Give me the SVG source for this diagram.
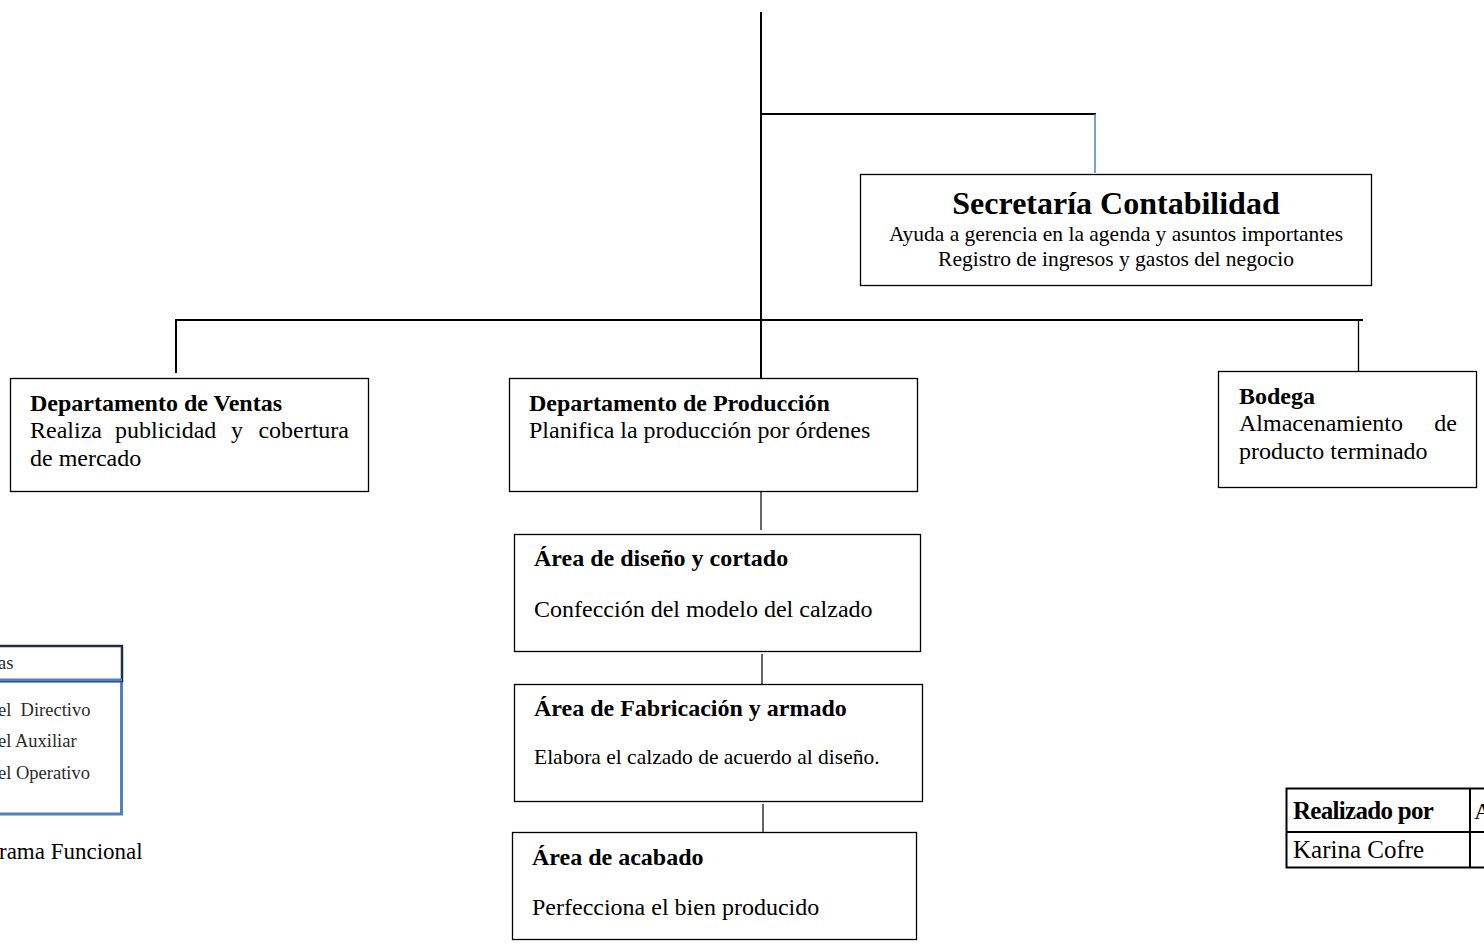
<svg xmlns="http://www.w3.org/2000/svg" width="1484" height="946" viewBox="0 0 1484 946">
<style>
.box{fill:#fff;stroke:#000;stroke-width:1.3}
.ln{stroke:#000;stroke-width:2;fill:none}
.t{font-family:"Liberation Serif",serif;fill:#000}
.b{font-weight:bold}
.s24{font-size:24px}
.s21{font-size:21.5px}
.lg{font-family:"Liberation Serif",serif;font-size:18.5px;fill:#2a2a2a}
</style>
<rect width="1484" height="946" fill="#fff"/>
<g id="connectors">
<line class="ln" x1="761" y1="12" x2="761" y2="378"/>
<line class="ln" x1="761" y1="114" x2="1096" y2="114"/>
<line x1="1095" y1="114" x2="1095" y2="173" stroke="#4f81bd" stroke-width="1.5"/>
<line class="ln" x1="175" y1="320" x2="1363" y2="320"/>
<line class="ln" x1="176" y1="320" x2="176" y2="373"/>
<line x1="1358.5" y1="320" x2="1358.5" y2="371" stroke="#000" stroke-width="1.3"/>
<line x1="761" y1="492" x2="761" y2="530" stroke="#000" stroke-width="1.2"/>
<line x1="762" y1="654" x2="762" y2="684" stroke="#000" stroke-width="1.2"/>
<line x1="763" y1="804" x2="763" y2="833" stroke="#000" stroke-width="1.2"/>
</g>
<g id="secretaria">
<rect class="box" x="860.5" y="174.5" width="511" height="111"/>
<text class="t b" x="1116" y="214" font-size="32" text-anchor="middle">Secretaría Contabilidad</text>
<text class="t s21" x="1116" y="241" text-anchor="middle">Ayuda a gerencia en la agenda y asuntos importantes</text>
<text class="t s21" x="1116" y="266" text-anchor="middle">Registro de ingresos y gastos del negocio</text>
</g>
<g id="ventas">
<rect class="box" x="10.5" y="378.5" width="358" height="113"/>
<text class="t b s24" x="30" y="411">Departamento de Ventas</text>
<text class="t s24" y="438"><tspan x="30">Realiza</tspan><tspan x="115">publicidad</tspan><tspan x="231">y</tspan></text>
<text class="t s24" x="349" y="438" text-anchor="end">cobertura</text>
<text class="t s24" x="30" y="466">de mercado</text>
</g>
<g id="produccion">
<rect class="box" x="509.5" y="378.5" width="408" height="113"/>
<text class="t b s24" x="529" y="411">Departamento de Producción</text>
<text class="t s24" x="529" y="438">Planifica la producción por órdenes</text>
</g>
<g id="bodega">
<rect class="box" x="1218.5" y="371.5" width="258" height="116"/>
<text class="t b s24" x="1239" y="404">Bodega</text>
<text class="t s24" x="1239" y="431">Almacenamiento</text>
<text class="t s24" x="1457" y="431" text-anchor="end">de</text>
<text class="t s24" x="1239" y="459">producto terminado</text>
</g>
<g id="diseno">
<rect class="box" x="514.5" y="534.5" width="406" height="117"/>
<text class="t b s24" x="534" y="566">Área de diseño y cortado</text>
<text class="t s24" x="534" y="617">Confección del modelo del calzado</text>
</g>
<g id="fabricacion">
<rect class="box" x="514.5" y="684.5" width="408" height="117"/>
<text class="t b s24" x="534" y="716">Área de Fabricación y armado</text>
<text class="t s21" x="534" y="764">Elabora el calzado de acuerdo al diseño.</text>
</g>
<g id="acabado">
<rect class="box" x="512.5" y="832.5" width="404" height="107"/>
<text class="t b s24" x="532" y="865">Área de acabado</text>
<text class="t s24" x="532" y="915">Perfecciona el bien producido</text>
</g>
<g id="leyenda">
<rect x="-10" y="681" width="131.5" height="133" fill="#fff" stroke="#4f81bd" stroke-width="3"/>
<rect x="-10" y="646" width="132" height="35" fill="#fff" stroke="#1f2d4a" stroke-width="2.5"/>
<line x1="-10" y1="680" x2="122" y2="680" stroke="#4f81bd" stroke-width="3"/>
<text class="lg" x="-2" y="669">as</text>
<text class="lg" x="-2" y="716" xml:space="preserve">el  Directivo</text>
<text class="lg" x="-2" y="747">el Auxiliar</text>
<text class="lg" x="-2" y="779">el Operativo</text>
<text class="t" x="-1" y="859" font-size="23">rama Funcional</text>
</g>
<g id="tabla">
<rect x="1286.5" y="788.5" width="210" height="79" fill="#fff" stroke="#000" stroke-width="2"/>
<line x1="1286" y1="832" x2="1484" y2="832" stroke="#000" stroke-width="2"/>
<line x1="1470" y1="788" x2="1470" y2="868" stroke="#000" stroke-width="2"/>
<text class="t b" x="1293" y="819" font-size="25" letter-spacing="-0.7">Realizado por</text>
<text class="t s24" x="1474" y="819">A</text>
<text class="t" x="1293" y="858" font-size="25">Karina Cofre</text>
</g>
</svg>
